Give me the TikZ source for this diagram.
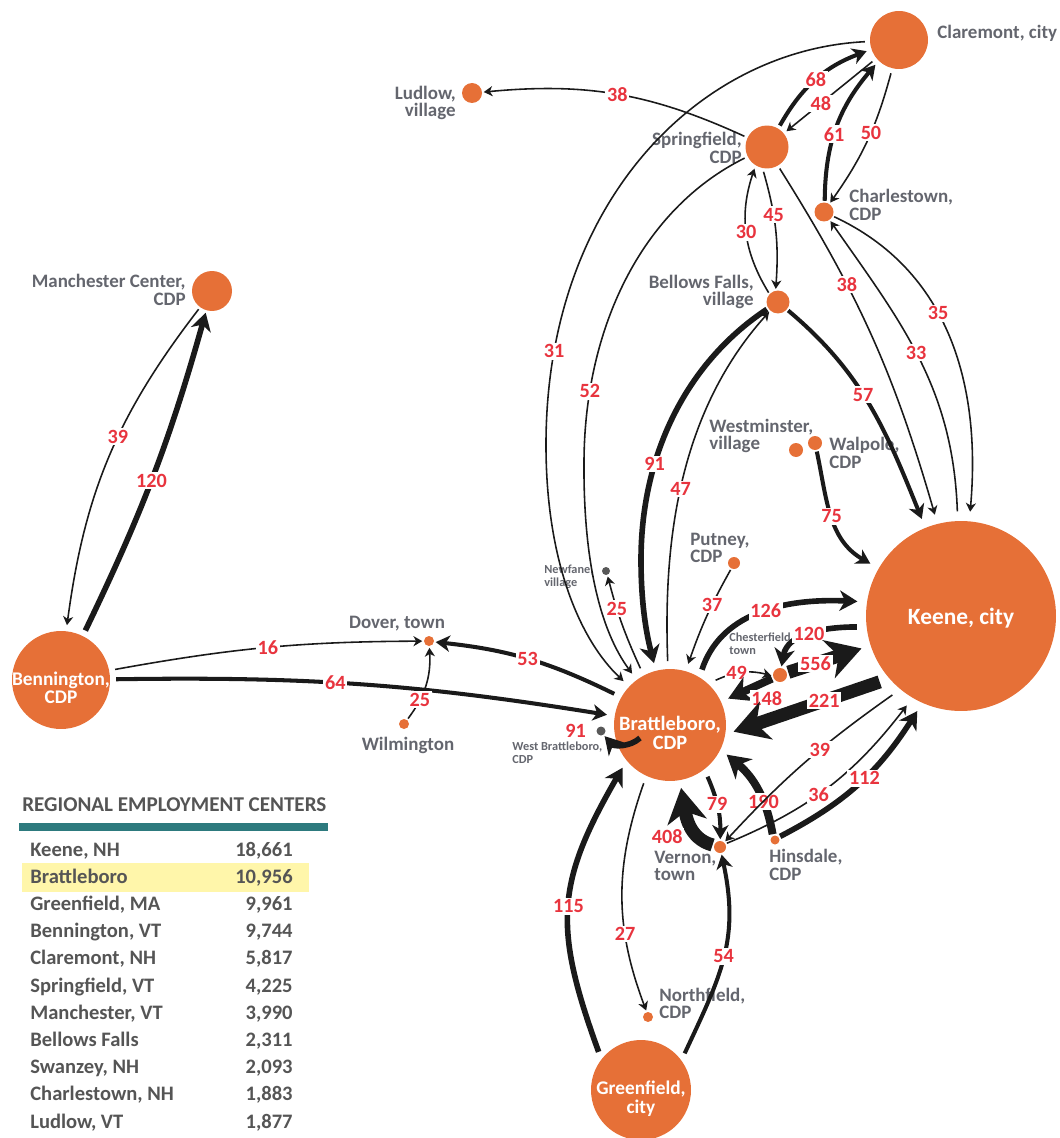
\documentclass[tikz,border=0pt]{standalone}
\usepackage{fontspec}
\setmainfont{Carlito}
\usetikzlibrary{arrows.meta}
\definecolor{townorange}{RGB}{230,112,55}
\definecolor{flowred}{RGB}{232,52,62}
\definecolor{labgray}{RGB}{100,102,110}
\definecolor{dotgray}{RGB}{88,88,88}
\definecolor{tablegray}{RGB}{85,85,85}
\definecolor{barteal}{RGB}{45,122,126}
\definecolor{rowyellow}{RGB}{255,246,170}
\definecolor{flowblack}{RGB}{26,26,26}

\begin{document}
\begin{tikzpicture}[x=0.02cm,y=-0.02cm,
            >={Stealth[length=3pt 2.2,width'=0pt 1.15,inset'=0pt 0.3]},
            town/.style={circle,fill=townorange,inner sep=0pt,outer sep=1pt},
            hamlet/.style={circle,fill=dotgray,inner sep=0pt,outer sep=1pt},
            tag/.style={text=labgray,inner sep=0pt,align=left,font=\bfseries\fontsize{10.8}{9.8}\selectfont},
            smalltag/.style={text=labgray,inner sep=0pt,align=left,font=\bfseries\fontsize{7}{7.5}\selectfont},
            intag/.style={text=white,align=center,font=\bfseries\fontsize{11}{10.5}\selectfont},
            num/.style={text=flowred,fill=white,inner sep=1pt,font=\bfseries\fontsize{11.5}{12}\selectfont},
            w1/.style={draw=flowblack,line width=0.9pt},
            w2/.style={draw=flowblack,line width=2.3pt},
            w3/.style={draw=flowblack,line width=3.2pt},
            w4/.style={draw=flowblack,line width=4.5pt},
            w5/.style={draw=flowblack,line width=7.5pt},
            row/.style={text=tablegray,inner sep=0pt,font=\bfseries\fontsize{11.7}{12}\selectfont}]
            \useasboundingbox (0,0) rectangle (1060,1138);
            % places
            \node[town,minimum size=1.16cm,outer sep=3pt] (cla) at (899,40) {};
            \node[town,minimum size=0.86cm,outer sep=2pt] (spr) at (767,147) {};
            \node[town,minimum size=0.38cm] (cha) at (824,212) {};
            \node[town,minimum size=0.46cm] (bel) at (778,302) {};
            \node[town,minimum size=0.40cm] (lud) at (472,93) {};
            \node[town,minimum size=0.80cm,outer sep=1.5pt] (man) at (212,291) {};
            \node[town,minimum size=1.96cm,outer sep=3.5pt,label={[intag,yshift=-4.5pt]center:{Bennington,\\CDP}}] (ben) at (61,680) {};
            \node[town,minimum size=0.2cm] (dov) at (429,641) {};
            \node[town,minimum size=0.2cm] (wil) at (404,724) {};
            \node[hamlet,minimum size=0.16cm] (new) at (606,571) {};
            \node[hamlet,minimum size=0.18cm] (wbr) at (601,731) {};
            \node[town,minimum size=2.24cm,outer sep=4.5pt,label={[intag,font=\bfseries\fontsize{11.6}{11}\selectfont,yshift=-4.5pt]center:{Brattleboro,\\CDP}}] (bra) at (670,725) {};
            \node[town,minimum size=0.24cm] (put) at (734,563) {};
            \node[town,minimum size=0.28cm] (wes) at (796,450) {};
            \node[town,minimum size=0.28cm] (wal) at (815,443) {};
            \node[town,minimum size=3.8cm,outer sep=5.5pt,label={[intag,font=\bfseries\fontsize{13.3}{14}\selectfont,yshift=-1pt]center:{Keene, city}}] (kee) at (961,616) {};
            \node[town,minimum size=0.28cm] (che) at (780,675) {};
            \node[town,minimum size=0.24cm] (ver) at (720,847) {};
            \node[town,minimum size=0.18cm] (hin) at (775,840) {};
            \node[town,minimum size=0.2cm] (nor) at (648,1017) {};
            \node[town,minimum size=2.0cm,outer sep=4pt,label={[intag,yshift=-5pt]center:{Greenfield,\\city}}] (gre) at (641,1090) {};
            % names
            \node[tag,anchor=west] (clal) at (937,33) {Claremont, city};
            \node[tag,anchor=east,align=right] (sprl) at (742,148) {Springfield,\\CDP};
            \node[tag,anchor=west] (chal) at (849,205) {Charlestown,\\CDP};
            \node[tag,anchor=east,align=right] (bell) at (754,292) {Bellows Falls,\\village};
            \node[tag,anchor=east,align=right] (ludl) at (456,103) {Ludlow,\\village};
            \node[tag,anchor=east,align=right] (manl) at (186,290) {Manchester Center,\\CDP};
            \node[tag] (dovl) at (397,624) {Dover, town};
            \node[tag] (will) at (408,745) {Wilmington};
            \node[smalltag,anchor=west] (newl) at (544,577) {Newfane,\\village};
            \node[smalltag,anchor=west] (wbrl) at (512,753) {West Brattleboro,\\CDP};
            \node[tag,anchor=west] (putl) at (690,548) {Putney,\\CDP};
            \node[tag,anchor=west] (wesl) at (709,436) {Westminster,\\village};
            \node[tag,anchor=west] (wall) at (829,453) {Walpole,\\CDP};
            \node[smalltag,anchor=west] (chel) at (729,644) {Chesterfield,\\town};
            \node[tag,anchor=west] (verl) at (654,866) {Vernon,\\town};
            \node[tag,anchor=west] (hinl) at (769,865) {Hinsdale,\\CDP};
            \node[tag,anchor=west] (norl) at (659,1003) {Northfield,\\CDP};
            % flows in the west
            \draw[w3,->] (ben) to[bend right=5] node[num,pos=.48]{120} (man);
            \draw[w1,->] (man) to[bend right=15] node[num,pos=.43]{39} (ben);
            \draw[w1,->] (ben) to[bend left=5] node[num,pos=.5]{16} (dov);
            \draw[w2,->] (ben) to[bend left=5] node[num,pos=.44]{64} (bra);
            \draw[w1,->] (wil) to[bend right=20] node[num,pos=.28]{25} (dov);
            \draw[w2,->] (bra) to[bend right=10] node[num,pos=.5]{53} (dov);
            \draw[w1,->] (bra) to[bend left=5] node[num,pos=.67]{25} (new);
            % flows in the north
            \draw[w1,->] (spr) to[bend right=15] node[num,pos=.5]{38} (lud);
            \draw[w2,->] (spr) to[bend left=20] node[num,pos=.5]{68} (cla);
            \draw[w1,->] (cla) -- node[num,pos=.6]{48} (spr);
            \draw[w2,->] (cha) to[bend left=20] node[num,pos=.45]{61} (cla);
            \draw[w1,->] (cla) to[bend left=10] node[num,pos=.43]{50} (cha);
            \draw[w1,->] (spr.262) to[bend left=10] node[num,pos=.36]{45} (bel.100);
            \draw[w1,->] (bel.135) to[bend left=25] node[num,pos=.5]{30} (spr.240);
            \draw[w1,->] (spr) to[bend left=8] node[num,pos=.34]{38} (kee);
            \draw[w1,->] (kee) to[out=92,in=-55] node[num,pos=.52]{33} (cha);
            \draw[w1,->] (cha) to[out=-25,in=85] node[num,pos=.42]{35} (kee);
            \draw[w2,->] (bel) to[out=-40,in=112] node[num,pos=.45]{57} (kee);
            \draw[w2,->] (wal) to[out=-78,in=150] node[num,pos=.5]{75} (kee);
            \draw[w1,->] (cla) .. controls (700,50) and (548,200) .. (546,440) node[num,pos=.87]{31}
                .. controls (545,560) and (580,640) .. (bra);
            \draw[w1,->] (spr) .. controls (640,210) and (585,330) .. (584,460) node[num,pos=.82]{52}
                .. controls (583,560) and (600,630) .. (bra);
            \draw[w3,->] (bel) .. controls (690,360) and (641,450) .. (641,560) node[num,pos=.69]{91}
                .. controls (641,610) and (648,640) .. (bra);
            \draw[w1,->] (bra) .. controls (664,560) and (672,420) .. (bel) node[num,pos=.5]{47};
            \draw[w1,->] (put) to[bend right=5] node[num,pos=.37]{37} (bra);
            % Brattleboro and Keene
            \draw[w3,->] (bra.60) .. controls (720,615) and (780,598) .. (kee.172) node[num,pos=.55]{126};
            \draw[w3,->] (kee.186) to[out=180,in=80] node[num,pos=.5]{120} (che);
            \draw[w5,->] (che) -- node[num,pos=.37]{556} (kee);
            \draw[w1,->] (bra) to[bend left=20] node[num,pos=.38]{49} (che);
            \draw[w4,->] (che) -- node[num,pos=.12,below=3pt]{148} (bra);
            \draw[w5,->] (kee.219) -- node[num,pos=.38]{221} (bra.354);
            \coordinate (wbs) at (640,738);
            \draw[w3,->] (wbs) to[bend left=45] node[num,pos=1,anchor=east,xshift=-8pt,yshift=3pt]{91} (wbr);
            % flows in the south
            \draw[w2,->] (bra.306) to[bend left=12] node[num,pos=.45]{79} (ver);
            \draw[w5,->] (ver) to[out=165,in=-80] node[num,pos=.25,left=4pt]{408} (bra);
            \draw[w4,->] (hin) to[bend right=20] node[num,pos=.35]{190} (bra);
            \draw[w1,->] (kee.229) to[bend right=6] node[num,pos=.4]{39} (ver);
            \draw[w1,->] (ver) to[bend right=15] node[num,pos=.45]{36} (kee);
            \draw[w3,->] (hin) to[bend right=15] node[num,pos=.55]{112} (kee);
            \draw[w3,->] (gre.138) to[out=110,in=240,looseness=1.2] node[num,pos=.5]{115} (bra.222);
            \draw[w1,->] (bra) to[bend right=20] node[num,pos=.67]{27} (nor);
            \draw[w2,->] (gre.40) to[out=65,in=-78,looseness=1.1] node[num,pos=.5]{54} (ver);
            % table
            \fill[rowyellow] (22,863) rectangle (309,892);
            \fill[barteal] (19,823) rectangle (328,831);
            \node[row,anchor=west,font=\bfseries\fontsize{12}{12}\selectfont] (title) at (22,805) {REGIONAL EMPLOYMENT CENTERS};
            \foreach \name/\jobs [count=\i from 0] in {{Keene, NH}/{18,661},{Brattleboro}/{10,956},
                {Greenfield, MA}/{9,961},{Bennington, VT}/{9,744},{Claremont, NH}/{5,817},
                {Springfield, VT}/{4,225},{Manchester, VT}/{3,990},{Bellows Falls}/{2,311},
                {Swanzey, NH}/{2,093},{Charlestown, NH}/{1,883},{Ludlow, VT}/{1,877}} {
                \node[row,anchor=base west] (name\i) at (30,856+27.2*\i) {\name};
                \node[row,anchor=base east] (jobs\i) at (293,856+27.2*\i) {\jobs};
            }
        \end{tikzpicture}
\end{document}
